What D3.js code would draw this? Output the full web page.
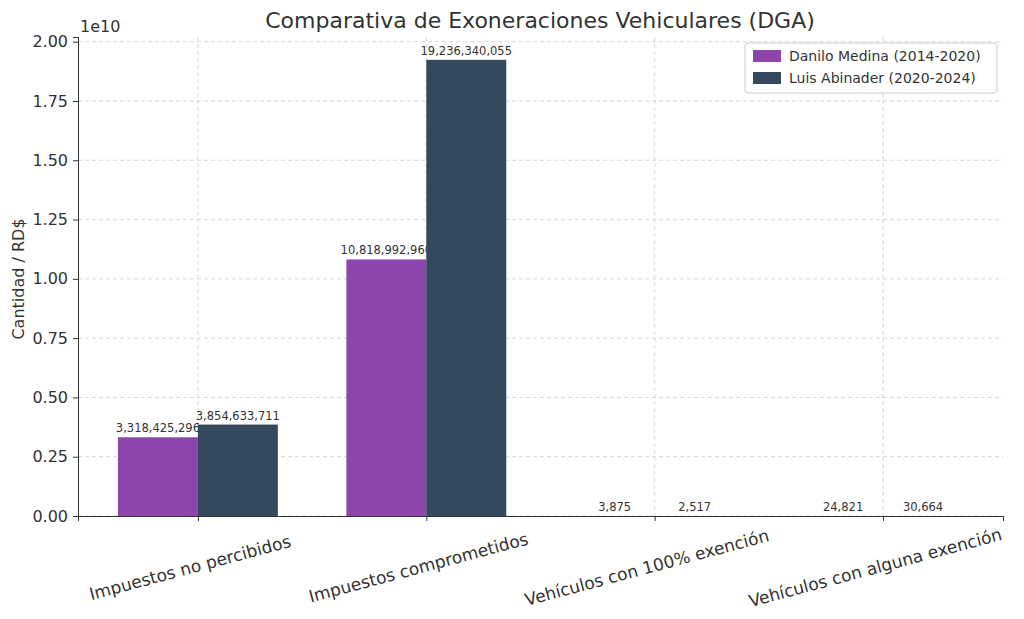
<!DOCTYPE html>
<html><head><meta charset="utf-8">
<script src="https://cdn.jsdelivr.net/npm/d3@7"></script>
<style>body{margin:0;background:#fff}text{font-family:"DejaVu Sans",sans-serif;fill:#333}</style>
</head><body><svg id="c" width="1024" height="619"></svg>
<script>
var categories = ["Impuestos no percibidos", "Impuestos comprometidos", "Vehículos con 100% exención", "Vehículos con alguna exención"];
var seriesNames = ["Danilo Medina (2014-2020)", "Luis Abinader (2020-2024)"];
var medina = [3318425296, 10818992960, 3875, 24821];
var abinader = [3854633711, 19236340055, 2517, 30664];
var colors = ["#8e44ad", "#34495e"];
var yTicks = [0, 0.25e10, 0.5e10, 0.75e10, 1e10, 1.25e10, 1.5e10, 1.75e10, 2e10];

var margin = {left: 78, right: 21, top: 37, bottom: 103};
var svg = d3.select("#c");
var w = 1024 - margin.left - margin.right, h = 619 - margin.top - margin.bottom;
var g = svg.append("g").attr("transform", `translate(${margin.left},${margin.top})`);

var x = d3.scaleLinear().domain([-0.525, 3.525]).range([0, w]);
var y = d3.scaleLinear().domain([0, 19236340055 * 1.05]).range([h, 0]);
var bw = x(0.35) - x(0);

// grid
g.selectAll(".gy").data(yTicks).join("line")
  .attr("x1", 0).attr("x2", w).attr("y1", d => y(d)).attr("y2", d => y(d))
  .attr("stroke", "#ccc").attr("stroke-dasharray", "4,3").attr("stroke-width", 0.8);
g.selectAll(".gx").data(categories).join("line")
  .attr("x1", (d, i) => x(i)).attr("x2", (d, i) => x(i)).attr("y1", 0).attr("y2", h)
  .attr("stroke", "#ccc").attr("stroke-dasharray", "4,3").attr("stroke-width", 0.8);

[medina, abinader].forEach(function (vals, s) {
  var off = s === 0 ? -0.175 : 0.175;
  g.selectAll(".b" + s).data(vals).join("rect")
    .attr("x", (d, i) => x(i + off) - bw / 2).attr("width", bw)
    .attr("y", d => y(d)).attr("height", d => h - y(d)).attr("fill", colors[s]);
  g.selectAll(".t" + s).data(vals).join("text")
    .attr("x", (d, i) => x(i + off)).attr("y", d => y(d) - 5)
    .attr("text-anchor", "middle").attr("font-size", 11.5)
    .text(d => d3.format(",")(d));
});

var ya = g.append("g").call(d3.axisLeft(y).tickValues(yTicks).tickFormat(d => (d / 1e10).toFixed(2)).tickSize(5));
ya.selectAll("text").attr("font-size", 16).attr("dx", -2);
var xa = g.append("g").attr("transform", `translate(0,${h})`)
  .call(d3.axisBottom(x).tickValues([0, 1, 2, 3]).tickFormat(i => categories[i]).tickSize(5));
xa.selectAll("text").attr("font-size", 17).attr("text-anchor", "middle")
  .attr("transform", "translate(-12,38) rotate(-15)");
[ya, xa].forEach(a => { a.select(".domain").attr("stroke", "#333"); a.selectAll("line").attr("stroke", "#333"); });

svg.append("text").attr("x", 80).attr("y", 32).attr("font-size", 16).text("1e10");
svg.append("text").attr("transform", "translate(24,279) rotate(-90)").attr("text-anchor", "middle")
  .attr("font-size", 16).text("Cantidad / RD$");
svg.append("text").attr("x", 540).attr("y", 28).attr("text-anchor", "middle").attr("font-size", 22).text("Comparativa de Exoneraciones Vehiculares (DGA)");

var lg = svg.append("g").attr("transform", "translate(745,43)");
lg.append("rect").attr("width", 252).attr("height", 50).attr("rx", 3).attr("fill", "#fff").attr("stroke", "#ccc");
seriesNames.forEach(function (n, i) {
  lg.append("rect").attr("x", 8).attr("y", 7 + i * 22).attr("width", 28).attr("height", 12).attr("fill", colors[i]);
  lg.append("text").attr("x", 44).attr("y", 18 + i * 22).attr("font-size", 14).text(n);
});
</script></body></html>
